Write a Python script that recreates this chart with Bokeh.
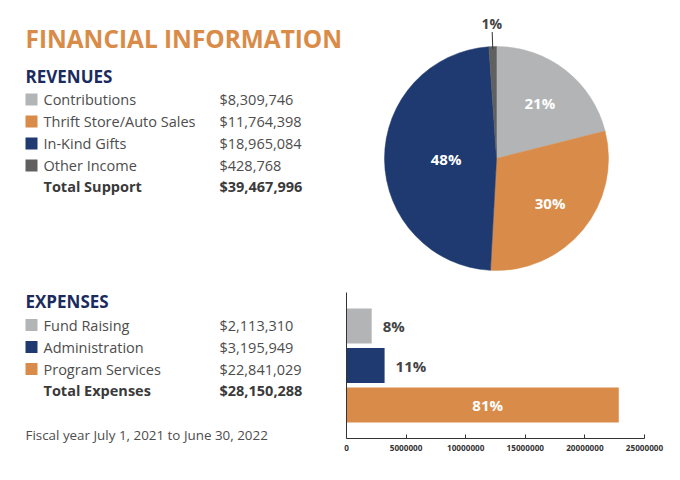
import math
from bokeh.plotting import figure
from bokeh.models import Range1d, ColumnDataSource, FixedTicker, NumeralTickFormatter, LinearAxis
from bokeh.core.properties import value
from bokeh.embed import file_html
from bokeh.resources import INLINE

# ---------------- data ----------------
title = "FINANCIAL INFORMATION"
rev_header = "REVENUES"
rev_labels = ["Contributions", "Thrift Store/Auto Sales", "In-Kind Gifts", "Other Income"]
rev_values = [8309746, 11764398, 18965084, 428768]
rev_total_label = "Total Support"
exp_header = "EXPENSES"
exp_labels = ["Fund Raising", "Administration", "Program Services"]
exp_values = [2113310, 3195949, 22841029]
exp_total_label = "Total Expenses"
footnote = "Fiscal year July 1, 2021 to June 30, 2022"
bar_ticks = [0, 5000000, 10000000, 15000000, 20000000, 25000000]

# ---------------- styles ----------------
GRAY, ORANGE, NAVY, DARK = "#b3b4b6", "#d98c4a", "#1e3a70", "#606060"
rev_colors = [GRAY, ORANGE, NAVY, DARK]
exp_colors = [GRAY, NAVY, ORANGE]
TITLE_C = "#d98b47"
HEAD_C = "#1b2b5e"
TXT_C = "#4d4d4d"
BOLD_C = "#3a3a3a"
FONT = value("Open Sans")

# layout geometry (page pixels; the page is drawn from its top-left corner)
W, H = 680, 476
def Y(sy):                  # page y -> data y (y up)
    return H - sy

AXIS_Y = 438                                   # page y of the bar chart's x axis
BAR_X0, BAR_X1, BAR_MAX = 346, 644, 25000000   # page x of 0 and of 25M
BAR_ROW0, BAR_STEP, BAR_TOP = 325.5, 39.5, 292

def money(v):
    return "${:,}".format(v)

px_per_val = (BAR_X1 - BAR_X0) / BAR_MAX
bar_xr = Range1d(-BAR_X0 / px_per_val, BAR_MAX + (W - BAR_X1) / px_per_val)
bar_yr = Range1d((H - BAR_ROW0) / BAR_STEP, (0 - BAR_ROW0) / BAR_STEP)

p = figure(width=W, height=H, x_range=Range1d(0, W), y_range=Range1d(0, H),
           output_backend="svg", toolbar_location=None, min_border=0,
           x_axis_location=None, y_axis_location=None)
p.grid.visible = False
p.outline_line_color = None
p.extra_x_ranges = {"bar": bar_xr}
p.extra_y_ranges = {"bary": bar_yr}

TXT = dict(text_font=FONT, text_baseline="middle")

# ---------------- left text panel ----------------
p.text(x=[25], y=[Y(38)], text=[title], text_font_style="bold",
       text_font_size="24.4px", text_color=TITLE_C, **TXT)

def block(header, header_mid, labels, values, colors, total_label, row_mid):
    p.text(x=[25], y=[Y(header_mid)], text=[header], text_font_style="bold",
           text_font_size="17px", text_color=HEAD_C, **TXT)
    ys = [row_mid + 22 * i for i in range(len(labels))]
    src = ColumnDataSource(dict(y=[Y(v) for v in ys], label=labels,
                                val=[money(v) for v in values], color=colors))
    p.scatter(x=31, y="y", marker="square", size=12, fill_color="color",
              line_color=None, source=src)
    p.text(x=43, y="y", text="label", text_font_size="14.5px",
           text_color=TXT_C, source=src, **TXT)
    p.text(x=219, y="y", text="val", text_font_size="14.5px",
           text_color=TXT_C, source=src, **TXT)
    ty = Y(row_mid + 22 * len(labels) - 1)
    p.text(x=[43], y=[ty], text=[total_label], text_font_style="bold",
           text_font_size="14.5px", text_color=BOLD_C, **TXT)
    p.text(x=[219], y=[ty], text=[money(sum(values))], text_font_style="bold",
           text_font_size="14.5px", text_color=BOLD_C, **TXT)

block(rev_header, 76, rev_labels, rev_values, rev_colors, rev_total_label, 99)
block(exp_header, 301, exp_labels, exp_values, exp_colors, exp_total_label, 324.5)

p.text(x=[25], y=[Y(434)], text=[footnote], text_font_size="13.4px", text_color=TXT_C, **TXT)

# ---------------- pie ----------------
CX, CY, R = 496, Y(158), 112
rtotal = sum(rev_values)
fr = [v / rtotal for v in rev_values]
cum = [sum(fr[:i]) for i in range(len(fr) + 1)]
starts = [math.pi / 2 - 2 * math.pi * cum[i] for i in range(len(fr))]
ends = [math.pi / 2 - 2 * math.pi * cum[i + 1] for i in range(len(fr))]
mids = [(s + e) / 2 for s, e in zip(starts, ends)]
p.wedge(x=CX, y=CY, radius=R, start_angle=starts, end_angle=ends, direction="clock",
        fill_color=rev_colors, line_color=rev_colors, line_width=0.5)

pct = ["{}%".format(round(f * 100)) for f in fr]
rad_f = [0.63, 0.62, 0.45, 1.21]
inside = [i for i in range(len(fr)) if fr[i] > 0.05]
outside = [i for i in range(len(fr)) if fr[i] <= 0.05]
p.text(x=[CX + R * rad_f[i] * math.cos(mids[i]) for i in inside],
       y=[CY + R * rad_f[i] * math.sin(mids[i]) for i in inside],
       text=[pct[i] for i in inside], text_font=FONT, text_font_style="bold",
       text_font_size="15px", text_color="white", text_align="center", text_baseline="middle")
for i in outside:
    p.segment(x0=CX + R * 0.98 * math.cos(mids[i]), y0=CY + R * 0.98 * math.sin(mids[i]),
              x1=CX + R * 1.13 * math.cos(mids[i]), y1=CY + R * 1.13 * math.sin(mids[i]),
              line_color="#333333", line_width=1)
    p.text(x=[CX + R * rad_f[i] * math.cos(mids[i])], y=[CY + R * rad_f[i] * math.sin(mids[i])],
           text=[pct[i]], text_font=FONT, text_font_style="bold", text_font_size="14px",
           text_color="#444444", text_align="center", text_baseline="middle")

# ---------------- bar ----------------
rows = list(range(len(exp_labels)))
p.hbar(y=rows, left=0, right=exp_values, height=0.886, fill_color=exp_colors, line_color=None,
       x_range_name="bar", y_range_name="bary")
# vertical axis line of the bar chart
p.segment(x0=[0], x1=[0], y0=[(BAR_TOP - BAR_ROW0) / BAR_STEP], y1=[(AXIS_Y - BAR_ROW0) / BAR_STEP],
          line_color="#333333", line_width=1, x_range_name="bar", y_range_name="bary")

etotal = sum(exp_values)
epct = ["{}%".format(round(100 * v / etotal)) for v in exp_values]
big = [v > 0.5 * max(exp_values) for v in exp_values]
p.text(x=[v for v, b in zip(exp_values, big) if not b],
       y=[r for r, b in zip(rows, big) if not b],
       text=[t for t, b in zip(epct, big) if not b], x_offset=11,
       text_font=FONT, text_font_style="bold", text_font_size="15px", text_color="#444444",
       text_align="left", text_baseline="middle", x_range_name="bar", y_range_name="bary")
p.text(x=[v / 2 for v, b in zip(exp_values, big) if b],
       y=[r for r, b in zip(rows, big) if b],
       text=[t for t, b in zip(epct, big) if b], x_offset=5,
       text_font=FONT, text_font_style="bold", text_font_size="15px", text_color="white",
       text_align="center", text_baseline="middle", x_range_name="bar", y_range_name="bary")

xa = LinearAxis(x_range_name="bar", bounds=(0, BAR_MAX), fixed_location=Y(AXIS_Y))
xa.ticker = FixedTicker(ticks=bar_ticks)
xa.formatter = NumeralTickFormatter(format="0")
xa.major_tick_in = 4
xa.major_tick_out = 0
xa.minor_tick_in = 0
xa.minor_tick_out = 0
xa.axis_line_color = "#333333"
xa.major_tick_line_color = "#333333"
xa.major_label_text_font = "Open Sans"
xa.major_label_text_font_style = "bold"
xa.major_label_text_font_size = "8.2px"
xa.major_label_text_color = "#333333"
xa.major_label_standoff = 6
p.add_layout(xa, "below")

open("out.html", "w").write(file_html(p, INLINE))
